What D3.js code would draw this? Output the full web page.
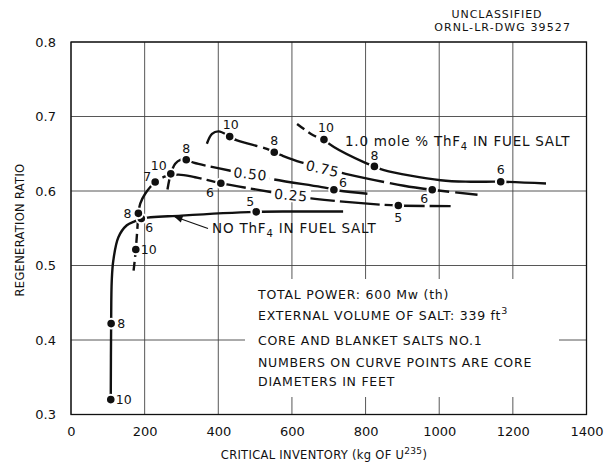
<!DOCTYPE html>
<html><head><meta charset="utf-8">
<script src="https://cdn.jsdelivr.net/npm/d3@7"></script>
<style>body{margin:0;background:#fff}svg{display:block}text{font-family:"DejaVu Sans",sans-serif;fill:#111}</style>
</head><body><svg id="c" width="606" height="465"></svg>
<script>
// ---- data ----
const xTicks = [0, 200, 400, 600, 800, 1000, 1200, 1400];
const yTicks = [0.3, 0.4, 0.5, 0.6, 0.7, 0.8];
const yTickLabels = ["0.3", "0.4", "0.5", "0.6", "0.7", "0.8"];

// curve traces [inventory kg, regeneration ratio]
const curveNoTh = [[108,0.32],[109,0.422],[110.7,0.48],[115,0.507],[128.7,0.538],[151.6,0.554],[174,0.5595],[191,0.563],[300,0.567],[503,0.572],[600,0.5725],[739,0.5725]];
const curve025 = [[170,0.493],[176,0.5215],[183,0.570],[188,0.583],[201,0.596],[228.6,0.612],[256,0.6195],[292,0.622],[337,0.6185],[407,0.6105],[550,0.598],[623,0.5917],[805,0.583],[889,0.5805],[1031,0.5797]];
const curve050 = [[262,0.602],[271,0.623],[283,0.6365],[297,0.6419],[313,0.642],[333,0.638],[430,0.6275],[546,0.616],[705,0.603],[714,0.6016],[805,0.5963]];
const curve075 = [[369,0.6634],[383,0.6767],[401,0.680],[431,0.673],[451,0.6678],[532,0.6566],[552,0.652],[573,0.6477],[623,0.6387],[682,0.631],[746,0.623],[904,0.607],[981,0.6016],[1104,0.595]];
const curve100 = [[614,0.690],[659,0.6745],[687,0.669],[714,0.659],[795,0.6387],[824,0.633],[850,0.628],[1004,0.6145],[1086,0.6125],[1167,0.6125],[1290,0.610]];

// marked points [inventory, ratio, core diameter ft]
const ptsNoTh = [[108,0.32,10],[109,0.422,8],[191,0.563,6],[503,0.572,5]];
const pts025 = [[176,0.5215,10],[183,0.570,8],[228.6,0.612,7],[407,0.6105,6],[889,0.5805,5]];
const pts050 = [[271,0.623,10],[313,0.642,8],[714,0.6016,6]];
const pts075 = [[431,0.673,10],[552,0.652,8],[981,0.6016,6]];
const pts100 = [[687,0.669,10],[824,0.633,8],[1167,0.6125,6]];

// ---- drawing ----
const svg = d3.select("#c");
const x = d3.scaleLinear().domain([0,1400]).range([71,586.5]);
const y = d3.scaleLinear().domain([0.3,0.8]).range([414.5,42]);

// grid
const g = svg.append("g");
g.selectAll(".vg").data(xTicks).join("line")
  .attr("x1",d=>x(d)).attr("x2",d=>x(d)).attr("y1",y(0.8)).attr("y2",y(0.3))
  .attr("stroke","#444").attr("stroke-width",0.9);
g.selectAll(".hg").data(yTicks).join("line")
  .attr("y1",d=>y(d)).attr("y2",d=>y(d)).attr("x1",x(0)).attr("x2",x(1400))
  .attr("stroke","#444").attr("stroke-width",0.9);
// white area behind note block
svg.append("rect").attr("x",245).attr("y",279).attr("width",314).attr("height",118).attr("fill","#fff");
// frame
svg.append("rect").attr("x",x(0)).attr("y",y(0.8)).attr("width",x(1400)-x(0)).attr("height",y(0.3)-y(0.8))
  .attr("fill","none").attr("stroke","#111").attr("stroke-width",1.3);

// axes labels
const xa = svg.append("g").attr("transform",`translate(0,${y(0.3)})`)
  .call(d3.axisBottom(x).tickValues(xTicks).tickSize(0).tickPadding(12).tickFormat(d3.format("d")));
xa.select(".domain").remove();
xa.selectAll("text").attr("font-size",13).attr("font-family","DejaVu Sans").attr("fill","#111");
const ya = svg.append("g").attr("transform",`translate(${x(0)},0)`)
  .call(d3.axisLeft(y).tickValues(yTicks).tickSize(0).tickPadding(15).tickFormat((d,i)=>yTickLabels[i]));
ya.select(".domain").remove();
ya.selectAll("text").attr("font-size",13).attr("font-family","DejaVu Sans").attr("fill","#111");

svg.append("text").attr("transform","translate(24,230) rotate(-90)").attr("text-anchor","middle")
  .attr("font-size",11.5).attr("letter-spacing",0.3).text("REGENERATION RATIO");
const xt = svg.append("text").attr("x",324).attr("y",459).attr("text-anchor","middle").attr("font-size",11.5).attr("letter-spacing",0.3);
xt.append("tspan").text("CRITICAL INVENTORY (kg OF U");
xt.append("tspan").attr("dy",-5).attr("font-size",9).text("235");
xt.append("tspan").attr("dy",5).text(")");

svg.append("text").attr("x",497).attr("y",18).attr("text-anchor","middle").attr("font-size",11).attr("letter-spacing",0.9).text("UNCLASSIFIED");
svg.append("text").attr("x",571).attr("y",31).attr("text-anchor","end").attr("font-size",11).attr("letter-spacing",1.1).text("ORNL-LR-DWG 39527");

// curves
const line = d3.line().x(d=>x(d[0])).y(d=>y(d[1])).curve(d3.curveCatmullRom.alpha(0.5));
function drawCurve(data, dash){
  svg.append("path").datum(data).attr("d",line).attr("fill","none").attr("stroke","#111")
    .attr("stroke-width",2.4).attr("stroke-dasharray",dash||null).attr("stroke-linecap","butt");
}
drawCurve(curveNoTh);
drawCurve(curve025.slice(0,3),"9,5");
drawCurve(curve025.slice(2),"40,5");
drawCurve(curve050,"60,5");
drawCurve(curve075,"60,6");
drawCurve(curve100.slice(0,3),"9,5");
drawCurve(curve100.slice(2));

// curve labels (white box breaks the line)
function curveLabel(txt, vx, vy, rot){
  const gg = svg.append("g").attr("transform",`translate(${x(vx)},${y(vy)}) rotate(${rot})`);
  const r = gg.append("rect").attr("fill","#fff");
  const t = gg.append("text").attr("text-anchor","middle").attr("dy","0.36em").attr("font-size",14)
    .attr("letter-spacing",0.6).text(txt);
  const b = t.node().getBBox();
  r.attr("x",b.x-3).attr("y",b.y+1).attr("width",b.width+6).attr("height",b.height-2);
}
curveLabel("0.50", 487, 0.623, 6);
curveLabel("0.25", 597, 0.5945, 5);
curveLabel("0.75", 683, 0.630, 13);

// points
function drawPts(data, offs){
  svg.append("g").selectAll("circle").data(data).join("circle")
    .attr("cx",d=>x(d[0])).attr("cy",d=>y(d[1])).attr("r",4.8)
    .attr("fill","#111").attr("stroke","#fff").attr("stroke-width",2);
  svg.append("g").selectAll("text").data(data).join("text")
    .attr("x",(d,i)=>x(d[0])+offs[i][0]).attr("y",(d,i)=>y(d[1])+offs[i][1])
    .attr("text-anchor","middle").attr("dy","0.36em").attr("font-size",12.5).text(d=>d[2]);
}
drawPts(ptsNoTh, [[13,0],[10,0],[8,9],[-6,-10]]);
drawPts(pts025, [[13,0],[-11,0],[-8,-6],[-11,9],[0,12]]);
drawPts(pts050, [[-12,-8],[0,-11],[9,-7]]);
drawPts(pts075, [[1,-12],[0,-12],[-8,9]]);
drawPts(pts100, [[2,-12],[0,-10.5],[0,-12]]);

// series annotations
function subText(sel, parts){
  parts.forEach(p=>{
    const t = sel.append("tspan").text(p[0]);
    if(p[1]) t.attr("dy",p[1]);
    if(p[2]) t.attr("font-size",p[2]);
  });
}
const t1 = svg.append("text").attr("x",345).attr("y",145.5).attr("font-size",13.5).attr("letter-spacing",0.75);
subText(t1, [["1.0 mole % ThF"],["4",4,10],[" IN FUEL SALT",-4]]);
const t2 = svg.append("text").attr("x",212).attr("y",233).attr("font-size",13.5).attr("letter-spacing",0.8);
subText(t2, [["NO ThF"],["4",4,10],[" IN FUEL SALT",-4]]);

// arrow
svg.append("defs").append("marker").attr("id","ah").attr("viewBox","0 0 10 10").attr("refX",9).attr("refY",5)
  .attr("markerWidth",9).attr("markerHeight",7).attr("orient","auto-start-reverse")
  .append("path").attr("d","M0,1 L10,5 L0,9 Z").attr("fill","#111");
svg.append("line").attr("x1",208).attr("y1",228.5).attr("x2",x(282)).attr("y2",y(0.5655))
  .attr("stroke","#111").attr("stroke-width",1.2).attr("marker-end","url(#ah)");

// note block
const notes = [["TOTAL POWER:  600 Mw (th)"],["EXTERNAL VOLUME OF SALT: 339 ft","3"],["CORE AND BLANKET SALTS NO.1"],["NUMBERS ON CURVE POINTS ARE CORE"],["DIAMETERS IN FEET"]];
const noteY = [298.5, 320, 344.5, 367, 386];
notes.forEach((n,i)=>{
  const t = svg.append("text").attr("x",258).attr("y",noteY[i]).attr("font-size",12.5).attr("letter-spacing",0.75);
  t.append("tspan").text(n[0]);
  if(n[1]) t.append("tspan").attr("dy",-6).attr("font-size",9.5).text(n[1]);
});
</script></body></html>
